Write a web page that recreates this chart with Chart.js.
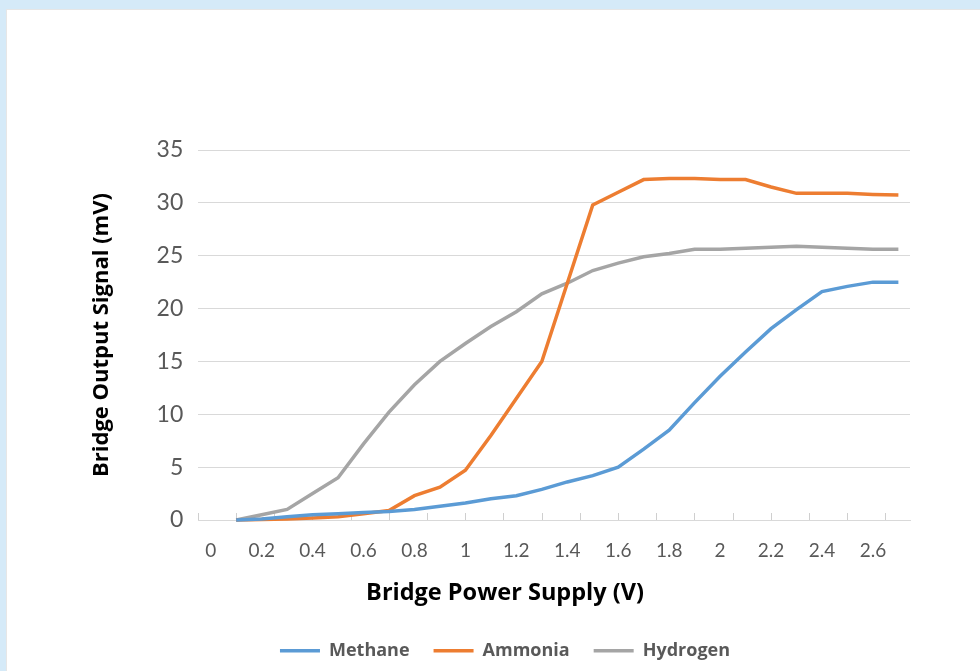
<!DOCTYPE html>
<html>
<head>
<meta charset="utf-8">
<script src="https://cdn.jsdelivr.net/npm/chart.js@4.4.1/dist/chart.umd.min.js"></script>
<style>
  html, body { margin: 0; padding: 0; }
  body { width: 980px; height: 671px; background: #d5eaf8; position: relative; overflow: hidden; }
  #panel { position: absolute; left: 6px; top: 9px; right: 0; bottom: 0; background: #fff; border-left: 1px solid #e6e6e6; border-top: 1px solid #e6e6e6; }
  #chart { position: absolute; left: 0; top: 0; }
</style>
</head>
<body>
<div id="panel"></div>
<canvas id="chart" width="980" height="671"></canvas>
<script>
// Bridge power supply (V), one reading every 0.1 V
const voltages = [0.1, 0.2, 0.3, 0.4, 0.5, 0.6, 0.7, 0.8, 0.9, 1.0,
                  1.1, 1.2, 1.3, 1.4, 1.5, 1.6, 1.7, 1.8, 1.9, 2.0,
                  2.1, 2.2, 2.3, 2.4, 2.5, 2.6, 2.7];

// Bridge output signal (mV)
const methane = [0, 0.1, 0.3, 0.5, 0.6, 0.7, 0.8, 1.0, 1.3, 1.6,
                 2.0, 2.3, 2.9, 3.6, 4.2, 5.0, 6.7, 8.5, 11.1, 13.6,
                 15.9, 18.1, 19.9, 21.6, 22.1, 22.5, 22.5];
const ammonia = [0, 0.05, 0.1, 0.2, 0.3, 0.6, 0.9, 2.3, 3.1, 4.7,
                 8.0, 11.5, 15.0, 22.4, 29.8, 31.0, 32.2, 32.3, 32.3, 32.2,
                 32.2, 31.5, 30.9, 30.9, 30.9, 30.8, 30.75];
const hydrogen = [0, 0.5, 1.0, 2.5, 4.0, 7.2, 10.2, 12.8, 15.0, 16.7,
                  18.3, 19.7, 21.4, 22.4, 23.6, 24.3, 24.9, 25.2, 25.6, 25.6,
                  25.7, 25.8, 25.9, 25.8, 25.7, 25.6, 25.6];

const seriesNames = ["Methane", "Ammonia", "Hydrogen"];
const seriesColors = ["#5b9bd5", "#ed7d31", "#a5a5a5"];

// x axis labels (V) and y axis range (mV)
const xTickLabels = [0, 0.2, 0.4, 0.6, 0.8, 1, 1.2, 1.4, 1.6, 1.8, 2, 2.2, 2.4, 2.6];
const yMin = 0, yMax = 35, yStep = 5;

const xMin = -0.0487, xMax = 2.7456;
const markStep = 0.15; // small tick marks on the x axis line

function toPoints(values) {
    return voltages.map((v, i) => ({ x: v, y: values[i] }));
}

const datasets = [methane, ammonia, hydrogen].map((values, i) => ({
    label: seriesNames[i],
    data: toPoints(values),
    borderColor: seriesColors[i],
    backgroundColor: seriesColors[i],
    borderWidth: 3.5,
    pointRadius: 0,
    pointStyle: "line",
    tension: 0,
    clip: false
}));

new Chart(document.getElementById("chart"), {
    type: "line",
    data: { datasets: datasets },
    options: {
        responsive: false,
        animation: false,
        layout: { padding: { top: 150, right: 70, left: 100, bottom: 1.3 } },
        scales: {
            x: {
                type: "linear",
                min: xMin,
                max: xMax,
                afterFit: (scale) => { scale.height = 50; },
                afterBuildTicks: (scale) => {
                    const ticks = xTickLabels.map(v => ({ value: v, isLabel: true }));
                    for (let v = xMin; v < xMax; v += markStep) {
                        ticks.push({ value: v, isLabel: false });
                    }
                    ticks.sort((a, b) => a.value - b.value);
                    scale.ticks = ticks;
                },
                ticks: {
                    autoSkip: false,
                    maxRotation: 0,
                    padding: 26,
                    color: "#595959",
                    font: { family: "Lato", size: 19 },
                    callback: (value, index, ticks) => ticks[index].isLabel ? String(value) : ""
                },
                grid: {
                    drawOnChartArea: false,
                    drawTicks: true,
                    tickLength: -7,
                    tickWidth: 1,
                    tickColor: (ctx) => (ctx.tick && ctx.tick.isLabel) ? "rgba(0,0,0,0)" : "#cfcfcf"
                },
                border: { display: true, color: "#d9d9d9", width: 1 }
            },
            y: {
                min: yMin,
                max: yMax,
                afterFit: (scale) => { scale.width = 98.3; },
                ticks: {
                    stepSize: yStep,
                    padding: 15,
                    color: "#595959",
                    font: { family: "Lato", size: 23 }
                },
                grid: { color: "#d9d9d9", drawTicks: false },
                border: { display: false },
                title: {
                    display: true,
                    text: "Bridge Output Signal (mV)",
                    color: "#000",
                    font: { family: "Open Sans", size: 22, weight: "bold" },
                    padding: { top: -11.2, bottom: 0 }
                }
            }
        },
        plugins: {
            title: {
                display: true,
                text: "Bridge Power Supply (V)",
                position: "bottom",
                weight: 500,
                color: "#000",
                font: { family: "Open Sans", size: 23.5, weight: "bold" },
                padding: { top: 8.9, bottom: 10.6 }
            },
            legend: {
                position: "bottom",
                labels: {
                    usePointStyle: true,
                    pointStyle: "line",
                    pointStyleWidth: 40,
                    padding: 24,
                    color: "#595959",
                    font: { family: "Open Sans", size: 18, weight: "bold" }
                }
            },
            tooltip: { enabled: false }
        }
    }
});
</script>
</body>
</html>
